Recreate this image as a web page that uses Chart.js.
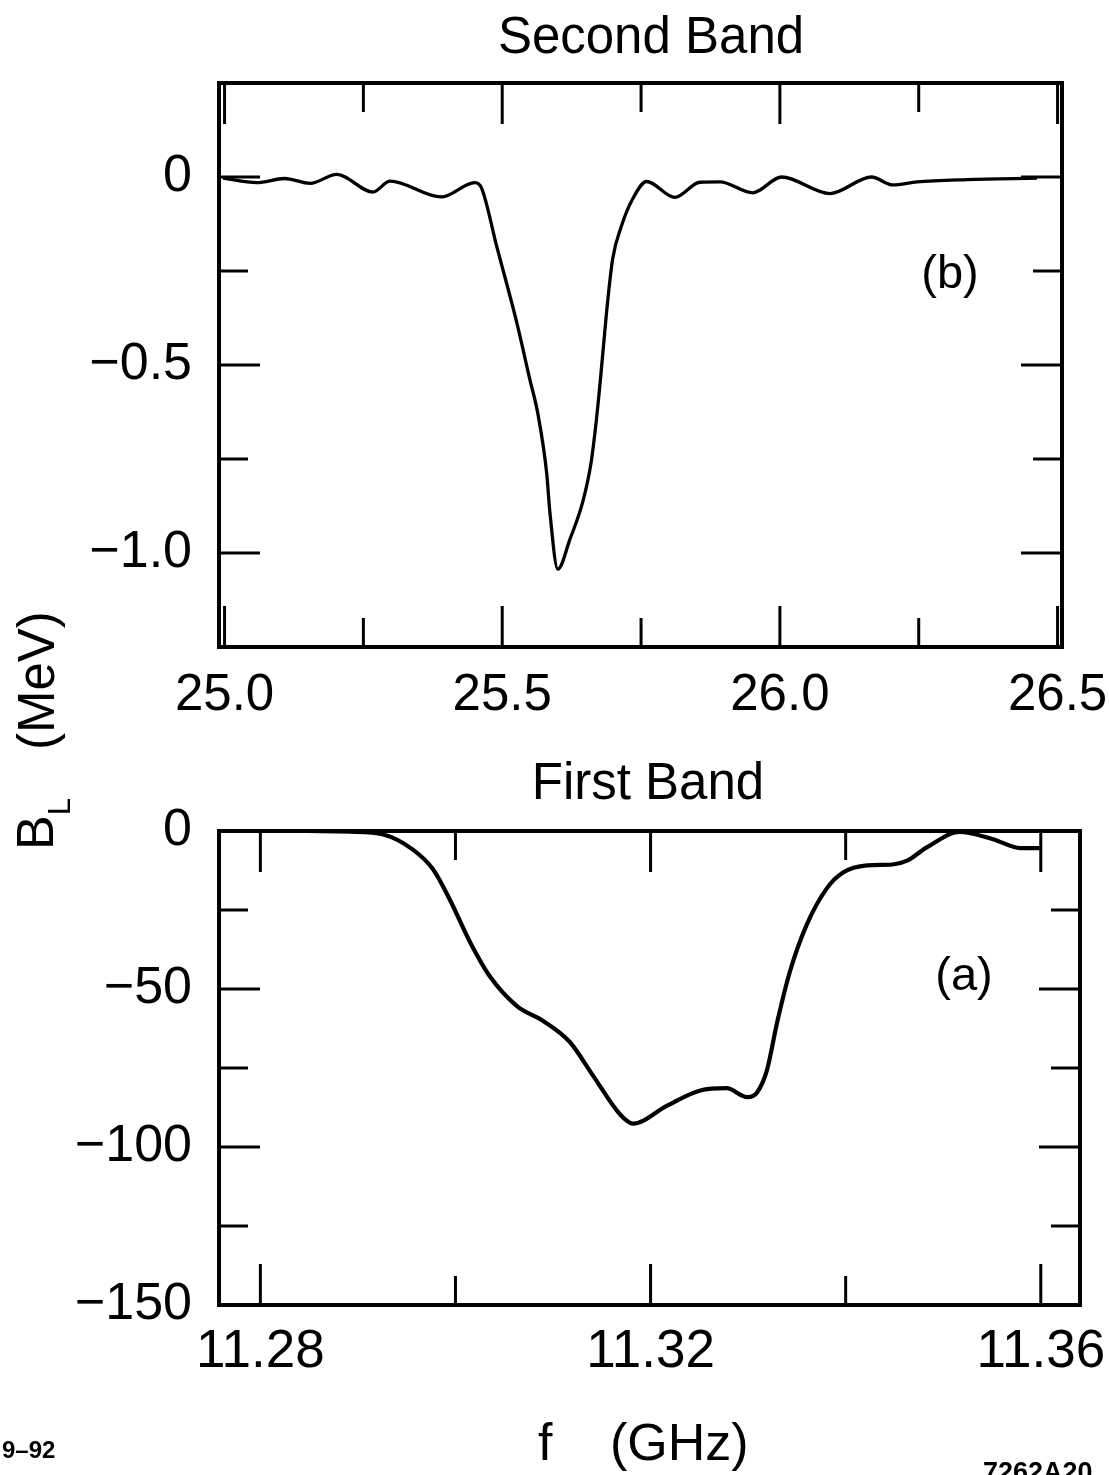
<!DOCTYPE html>
<html>
<head>
<meta charset="utf-8">
<script src="https://cdn.jsdelivr.net/npm/chart.js@4.4.1/dist/chart.umd.min.js"></script>
<style>
  html, body { margin: 0; padding: 0; background: #fff; }
  #wrap { position: relative; width: 1109px; height: 1475px; overflow: hidden; background: #fff; }
  #wrap canvas { position: absolute; left: 0; top: 0; }
</style>
</head>
<body>
<div id="wrap">
  <canvas id="secondBand" width="1109" height="1475"></canvas>
  <canvas id="firstBand" width="1109" height="1475"></canvas>
</div>
<script>
// ---- Second band, panel (b): frequency (GHz) vs longitudinal kick B_L (MeV)
const secondFreq = [24.997, 25.058, 25.108, 25.154, 25.202, 25.267, 25.298, 25.390, 25.451, 25.463,
                    25.490, 25.526, 25.550, 25.564, 25.580, 25.586, 25.600, 25.622, 25.645, 25.660,
                    25.670, 25.678, 25.688, 25.699, 25.715, 25.735, 25.760, 25.811, 25.856, 25.892,
                    25.951, 26.003, 26.090, 26.165, 26.203, 26.247, 26.337, 26.463];
const secondBL   = [-0.003, -0.015, -0.004, -0.017, 0.007, -0.040, -0.011, -0.053, -0.015, -0.030,
                    -0.184, -0.386, -0.540, -0.628, -0.787, -0.894, -1.043, -0.963, -0.864, -0.760,
                    -0.640, -0.520, -0.358, -0.217, -0.129, -0.058, -0.012, -0.054, -0.014, -0.013,
                    -0.042, 0.000, -0.044, 0.000, -0.021, -0.013, -0.007, -0.003];
const secondFreqTicks      = [25.0, 25.25, 25.5, 25.75, 26.0, 26.25, 26.5];
const secondFreqTickLabels = ['25.0', '', '25.5', '', '26.0', '', '26.5'];
const secondBLTicks        = [0.25, 0, -0.25, -0.5, -0.75, -1.0, -1.25];
const secondBLTickLabels   = ['', '0', '', '\u22120.5', '', '\u22121.0', ''];

// ---- First band, panel (a)
const firstFreq = [11.2849, 11.2892, 11.2926, 11.2956, 11.2977, 11.2994, 11.3015, 11.3035, 11.3063, 11.3090,
                   11.3117, 11.3141, 11.3169, 11.3182, 11.3217, 11.3251, 11.3278, 11.3299, 11.3309, 11.3319,
                   11.3330, 11.3343, 11.3360, 11.3381, 11.3397, 11.3422, 11.3448, 11.3463, 11.3483, 11.3517,
                   11.3551, 11.3579, 11.3599];
const firstBL   = [0, -0.2, -1.1, -5.8, -12.1, -21.6, -35.2, -45.9, -55.4, -60.1,
                   -66.7, -77.4, -89.8, -92.6, -86.9, -82.1, -81.4, -84.2, -82.8, -76.0,
                   -60.2, -44.3, -29.7, -18.0, -13.2, -10.9, -10.6, -9.4, -5.2, -0.3,
                   -2.6, -5.4, -5.4];
const firstFreqTicks      = [11.28, 11.30, 11.32, 11.34, 11.36];
const firstFreqTickLabels = ['11.28', '', '11.32', '', '11.36'];
const firstBLTicks        = [0, -25, -50, -75, -100, -125, -150];
const firstBLTickLabels   = ['0', '', '\u221250', '', '\u2212100', '', '\u2212150'];

const FAMILY = "'Liberation Sans', Arial, Helvetica, sans-serif";
const fontStr = (size, weight) => `${weight || 'normal'} ${size}px ${FAMILY}`;

Chart.defaults.color = '#000';
Chart.defaults.font.family = FAMILY;

function toPoints(xs, ys) {
  return xs.map((x, i) => ({ x: x, y: ys[i] }));
}

// fixed axis thickness so both panels keep the same frame
function fixedWidth(w) {
  return function (scale) {
    scale.width = w;
    scale.paddingTop = 0; scale.paddingBottom = 0; scale.paddingLeft = 0; scale.paddingRight = 0;
  };
}
function fixedHeight(h) {
  return function (scale) {
    scale.height = h;
    scale.paddingTop = 0; scale.paddingBottom = 0; scale.paddingLeft = 0; scale.paddingRight = 0;
  };
}
function useTicks(values) {
  return function (scale) { scale.ticks = values.map(v => ({ value: v })); };
}

// frame around the plot plus inward tick marks on all four sides
const frameTicks = {
  id: 'frameTicks',
  afterDatasetsDraw(chart, args, opts) {
    const { ctx, chartArea: a } = chart;
    const xs = chart.scales.x, ys = chart.scales.y;
    ctx.save();
    ctx.strokeStyle = '#000';
    ctx.lineCap = 'butt';
    ctx.lineWidth = opts.tickWidth;
    xs.ticks.forEach((t, i) => {
      const px = xs.getPixelForValue(t.value);
      const len = opts.xLabels[i] ? opts.major : opts.minor;
      ctx.beginPath();
      ctx.moveTo(px, a.top); ctx.lineTo(px, a.top + len);
      ctx.moveTo(px, a.bottom); ctx.lineTo(px, a.bottom - len);
      ctx.stroke();
    });
    ys.ticks.forEach((t, i) => {
      const py = ys.getPixelForValue(t.value);
      const len = opts.yLabels[i] ? opts.major : opts.minor;
      ctx.beginPath();
      ctx.moveTo(a.left, py); ctx.lineTo(a.left + len, py);
      ctx.moveTo(a.right, py); ctx.lineTo(a.right - len, py);
      ctx.stroke();
    });
    ctx.lineWidth = opts.frameWidth;
    ctx.lineJoin = 'miter';
    ctx.strokeRect(a.left, a.top, a.right - a.left, a.bottom - a.top);
    ctx.restore();
  }
};

// free text: panel titles, panel letters, axis titles, figure codes
const annotations = {
  id: 'annotations',
  afterDraw(chart, args, opts) {
    const ctx = chart.ctx;
    ctx.save();
    ctx.fillStyle = '#000';
    ctx.textBaseline = 'alphabetic';
    (opts.items || []).forEach(it => {
      ctx.save();
      ctx.font = fontStr(it.size, it.weight);
      ctx.textAlign = it.align || 'left';
      ctx.translate(it.x, it.y);
      if (it.rotate) ctx.rotate(it.rotate);
      ctx.fillText(it.text, 0, 0);
      if (it.sub) {
        const w = ctx.measureText(it.text).width;
        ctx.font = fontStr(it.sub.size);
        ctx.textAlign = 'left';
        ctx.fillText(it.sub.text, w + (it.sub.dx || 0), it.sub.dy);
      }
      ctx.restore();
    });
    ctx.restore();
  }
};

function panel(canvasId, cfg) {
  return new Chart(document.getElementById(canvasId), {
    type: 'scatter',
    data: {
      datasets: [{
        data: toPoints(cfg.xData, cfg.yData),
        showLine: true,
        borderColor: '#000',
        borderWidth: cfg.lineWidth,
        pointRadius: 0,
        pointHoverRadius: 0,
        fill: false,
        cubicInterpolationMode: 'monotone'
      }]
    },
    options: {
      responsive: false,
      animation: false,
      devicePixelRatio: 1,
      events: [],
      layout: { padding: cfg.padding },
      scales: {
        x: {
          type: 'linear',
          position: 'bottom',
          min: cfg.xMin, max: cfg.xMax,
          afterBuildTicks: useTicks(cfg.xTicks),
          afterFit: fixedHeight(80),
          grid: { display: false, drawTicks: false },
          border: { display: false },
          ticks: {
            autoSkip: false, maxRotation: 0, minRotation: 0,
            padding: cfg.xTickPad,
            font: { size: cfg.xTickSize, family: FAMILY },
            color: '#000',
            callback: (v, i) => cfg.xLabels[i]
          }
        },
        y: {
          type: 'linear',
          position: 'left',
          min: cfg.yMin, max: cfg.yMax,
          afterBuildTicks: useTicks(cfg.yTicks),
          afterFit: fixedWidth(219),
          grid: { display: false, drawTicks: false },
          border: { display: false },
          ticks: {
            autoSkip: false,
            padding: 27,
            font: { size: 52, family: FAMILY },
            color: '#000',
            callback: (v, i) => cfg.yLabels[i]
          }
        }
      },
      plugins: {
        legend: { display: false },
        tooltip: { enabled: false },
        frameTicks: {
          xLabels: cfg.xLabels, yLabels: cfg.yLabels,
          major: 41, minor: 29, tickWidth: 3, frameWidth: 4
        },
        annotations: { items: cfg.items }
      }
    },
    plugins: [frameTicks, annotations]
  });
}

// panel (b): Second Band
panel('secondBand', {
  xData: secondFreq, yData: secondBL, lineWidth: 3.3,
  xMin: 24.99, xMax: 26.508, yMin: -1.25, yMax: 0.25,
  xTicks: secondFreqTicks, xLabels: secondFreqTickLabels, xTickSize: 51, xTickPad: 18,
  yTicks: secondBLTicks, yLabels: secondBLTickLabels,
  padding: { top: 83, left: 0, right: 47, bottom: 748 },
  items: [
    { text: 'Second Band', x: 651, y: 53, size: 51, align: 'center' },
    { text: '(b)', x: 950, y: 288, size: 47, align: 'center' }
  ]
});

// panel (a): First Band, with the shared axis titles
panel('firstBand', {
  xData: firstFreq, yData: firstBL, lineWidth: 4.2,
  xMin: 11.27576, xMax: 11.36402, yMin: -150, yMax: 0,
  xTicks: firstFreqTicks, xLabels: firstFreqTickLabels, xTickSize: 53, xTickPad: 16,
  yTicks: firstBLTicks, yLabels: firstBLTickLabels,
  padding: { top: 831, left: 0, right: 29, bottom: 90 },
  items: [
    { text: 'First Band', x: 648, y: 799, size: 51, align: 'center' },
    { text: '(a)', x: 964, y: 990, size: 47, align: 'center' },
    { text: 'f', x: 538, y: 1460, size: 52 },
    { text: '(GHz)', x: 610, y: 1460, size: 52 },
    { text: 'B', x: 53, y: 850, size: 52, rotate: -Math.PI / 2, sub: { text: 'L', size: 31, dy: 17 } },
    { text: '(MeV)', x: 54, y: 750, size: 51, rotate: -Math.PI / 2 },
    { text: '9\u201392', x: 2, y: 1458, size: 24, weight: 'bold' },
    { text: '7262A20', x: 983, y: 1481, size: 27, weight: 'bold' }
  ]
});
</script>
</body>
</html>
